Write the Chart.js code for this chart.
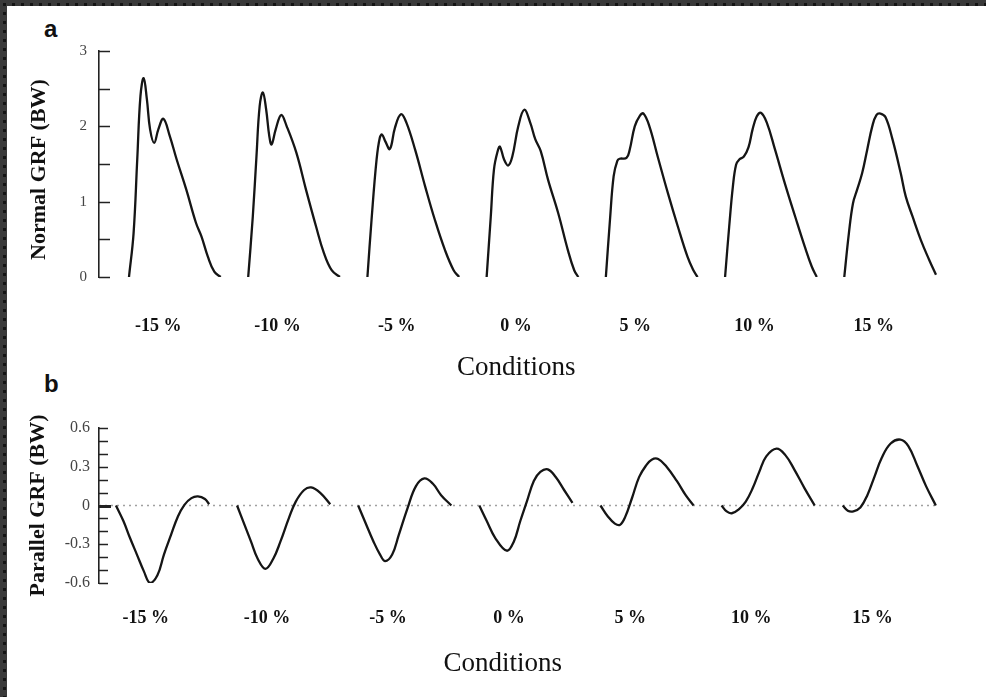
<!DOCTYPE html>
<html lang="en">
<head>
    <meta charset="UTF-8">
    <title>Normal and parallel GRF by slope condition</title>
    <script src="https://cdn.jsdelivr.net/npm/chart.js@4.4.1/dist/chart.umd.min.js"></script>
    <style>
        body {
            margin: 0;
            width: 986px;
            height: 697px;
            position: relative;
            overflow: hidden;
            background: radial-gradient(circle, #141414 1.4px, transparent 2px) 0 0 / 9px 9px, #3a3a3a;
        }
        .sheet { position: absolute; left: 7px; top: 6px; right: 0; bottom: 0; background: #fff; }
        canvas { position: absolute; left: 0; }
        #normalChart { top: 0; }
        #parallelChart { top: 384px; }
        .panel-tag {
            position: absolute;
            left: 44px;
            font: bold 24px "Liberation Sans", Arial, sans-serif;
            line-height: 24px;
            color: #111;
        }
    </style>
</head>
<body>
    <div class="sheet"></div>
    <div class="panel-tag" style="top:17px">a</div>
    <div class="panel-tag" style="top:372px">b</div>
    <canvas id="normalChart" width="986" height="384"></canvas>
    <canvas id="parallelChart" width="986" height="296"></canvas>

    <script>
        // slope conditions, left to right
        const conditions = ['-15 %', '-10 %', '-5 %', '0 %', '5 %', '10 %', '15 %'];

        // normal GRF (BW) vs % of stance, one trace per condition
        const normM15 = [[0,0],[5,0.58],[9,1.56],[12.5,2.40],[16,2.64],[19.5,2.36],[23,1.96],[27.5,1.78],[32,1.96],[37.5,2.10],[44.5,1.87],[52,1.56],[62.5,1.16],[73,0.72],[79,0.54],[86,0.27],[93,0.07],[100,0]];
        const normM10 = [[0,0],[5,0.80],[9,1.60],[12.5,2.27],[16,2.45],[19.5,2.23],[23,1.87],[25.5,1.76],[30,1.96],[36,2.15],[42,2.0],[52.5,1.65],[63,1.16],[74,0.67],[82.5,0.32],[91,0.09],[100,0]];
        const normM5 = [[0,0],[4.5,0.76],[10,1.56],[13.5,1.85],[16,1.89],[19.5,1.80],[24.5,1.70],[30,1.98],[36.5,2.16],[42.5,2.05],[52,1.69],[63,1.20],[73.5,0.76],[84.5,0.36],[94,0.09],[100,0]];
        const norm0 = [[0,0],[4.5,0.80],[8,1.43],[12,1.67],[14.5,1.73],[19,1.56],[23.5,1.48],[28,1.60],[34.5,2.0],[41,2.22],[47.5,2.05],[53,1.83],[59,1.67],[67,1.29],[78,0.85],[88.5,0.36],[95.5,0.09],[100,0]];
        const normP5 = [[0,0],[4.5,0.76],[8.5,1.34],[12.5,1.54],[15,1.57],[22.5,1.58],[26,1.69],[31.5,2.0],[37,2.14],[41,2.17],[47.5,2.0],[56.5,1.60],[67.5,1.12],[78.5,0.67],[89,0.27],[95,0.10],[100,0]];
        const normP10 = [[0,0],[4.5,0.67],[8.5,1.20],[12,1.49],[15.5,1.56],[20.5,1.60],[25.5,1.72],[30,1.96],[34.5,2.13],[39,2.18],[45.5,2.05],[54.5,1.69],[65.5,1.23],[76.5,0.80],[87,0.40],[94.5,0.14],[100,0]];
        const normP15 = [[0,0],[5,0.58],[9.5,0.98],[14,1.16],[19.5,1.38],[25,1.69],[30.5,2.0],[35,2.15],[39.5,2.17],[45,2.12],[52.5,1.83],[61.5,1.38],[67,1.07],[74.5,0.80],[83.5,0.49],[92.5,0.23],[100,0.03]];

        // parallel GRF (BW) vs % of stance
        const parM15 = [[0,0],[8,-0.12],[15,-0.25],[22.5,-0.38],[30,-0.51],[36.5,-0.60],[44.5,-0.54],[51.5,-0.38],[59,-0.23],[66.5,-0.085],[73.5,0.005],[81,0.057],[88,0.07],[95.5,0.05],[100,0.01]];
        const parM10 = [[0,0],[7.5,-0.14],[15,-0.28],[22,-0.41],[30.5,-0.49],[39,-0.41],[46.5,-0.28],[55.5,-0.10],[63,0.03],[72,0.12],[79.5,0.14],[89,0.10],[100,0.01]];
        const parM5 = [[0,0],[7,-0.12],[16.5,-0.28],[23.5,-0.38],[29,-0.43],[36.5,-0.38],[43.5,-0.23],[53,-0.02],[62,0.15],[71,0.21],[80,0.17],[89,0.08],[100,0]];
        const par0 = [[0,0],[8,-0.12],[17,-0.25],[29.5,-0.35],[37,-0.28],[44,-0.12],[51,0.03],[58.5,0.19],[65.5,0.26],[73.5,0.28],[82,0.22],[91,0.12],[100,0.02]];
        const parP5 = [[0,0],[8,-0.085],[15.5,-0.14],[21,-0.15],[26.5,-0.09],[34,0.06],[41.5,0.22],[49,0.31],[55,0.355],[62,0.36],[71,0.30],[82,0.19],[91.5,0.08],[100,0]];
        const parP10 = [[0,0],[5.5,-0.046],[11,-0.06],[18.5,-0.03],[26,0.03],[33.5,0.135],[40.5,0.26],[48,0.38],[59,0.44],[68.5,0.39],[78,0.28],[89,0.135],[100,0]];
        const parP15 = [[0,0],[5.5,-0.04],[11.5,-0.045],[19,-0.015],[26.5,0.08],[34,0.22],[42,0.37],[51.5,0.48],[62,0.51],[70.5,0.46],[80,0.31],[89.5,0.15],[100,0]];

        // axis ticks
        const normalTickLabels = [0, 1, 2, 3];
        const normalTickMarks = [0, 0.5, 1, 1.5, 2, 2.5, 3];
        const parallelTickLabels = [-0.6, -0.3, 0, 0.3, 0.6];
        const parallelTickMarks = [-0.6, -0.5, -0.4, -0.3, -0.2, -0.1, 0, 0.1, 0.2, 0.3, 0.4, 0.5, 0.6];

        const GAP = 130;        // x units between the start of two traces
        const LABEL_AT = 32;    // where the condition label sits inside a block
        const SERIF = '"Liberation Serif", "Times New Roman", serif';

        // ticks drawn on the inner side of the y axis
        const inwardTicks = {
            id: 'inwardTicks',
            afterDraw(chart, args, opts) {
                const y = chart.scales.y;
                const ctx = chart.ctx;
                ctx.save();
                ctx.strokeStyle = '#222';
                opts.values.forEach(v => {
                    const py = Math.round(y.getPixelForValue(v)) + 0.5;
                    const big = opts.boldZero && v === 0;
                    ctx.lineWidth = big ? 3 : 1.5;
                    ctx.beginPath();
                    ctx.moveTo(y.right, py);
                    ctx.lineTo(y.right + (big ? opts.len + 3 : opts.len), py);
                    ctx.stroke();
                });
                ctx.restore();
            }
        };

        function makePanel(id, curves, cfg) {
            const datasets = curves.map((pts, i) => ({
                data: pts.map(([p, v]) => ({ x: i * GAP + p, y: v })),
                borderColor: '#151515',
                borderWidth: 2.3,
                pointRadius: 0,
                tension: 0.4
            }));
            if (cfg.zeroLine) {
                datasets.push({
                    data: [{ x: cfg.xMin, y: 0 }, { x: (conditions.length - 1) * GAP + 100, y: 0 }],
                    borderColor: '#a0a0a0',
                    borderWidth: 1.6,
                    borderDash: [2, 4],
                    pointRadius: 0
                });
            }

            return new Chart(document.getElementById(id), {
                type: 'line',
                data: { datasets },
                plugins: [inwardTicks],
                options: {
                    responsive: false,
                    animation: false,
                    layout: { padding: { top: cfg.top, right: 39, left: 0, bottom: 0 } },
                    plugins: {
                        legend: { display: false },
                        tooltip: { enabled: false },
                        inwardTicks: { values: cfg.tickMarks, len: cfg.tickLen, boldZero: cfg.zeroLine }
                    },
                    scales: {
                        x: {
                            type: 'linear',
                            min: cfg.xMin,
                            max: 892,
                            grid: { display: false, drawTicks: false },
                            border: { display: false },
                            afterBuildTicks: s => { s.ticks = conditions.map((c, i) => ({ value: i * GAP + LABEL_AT })); },
                            afterFit: s => { s.height = cfg.xAxisHeight; },
                            ticks: {
                                autoSkip: false,
                                maxRotation: 0,
                                minRotation: 0,
                                padding: cfg.labelPad,
                                color: '#111',
                                font: { family: SERIF, size: 18, weight: 'bold' },
                                callback: (v, i) => conditions[i]
                            },
                            title: {
                                display: true,
                                // trailing spaces nudge the centred title a little to the left, as in the figure
                                text: 'Conditions' + ' '.repeat(cfg.titleNudge),
                                color: '#111',
                                padding: 0,
                                font: { family: SERIF, size: 27 }
                            }
                        },
                        y: {
                            min: cfg.yMin,
                            max: cfg.yMax,
                            grid: { display: false, drawTicks: false },
                            border: { display: true, color: '#222', width: 1.6 },
                            afterBuildTicks: s => { s.ticks = cfg.tickLabels.map(v => ({ value: v })); },
                            afterFit: s => { s.width = 99; },
                            ticks: {
                                padding: cfg.yLabelPad,
                                color: '#444',
                                font: { family: SERIF, size: cfg.yLabelSize },
                                callback: v => String(v)
                            },
                            title: {
                                display: true,
                                text: cfg.yTitle,
                                color: '#111',
                                padding: { top: cfg.yTitlePad, bottom: 0 },
                                font: { family: SERIF, size: 22, weight: 'bold' }
                            }
                        }
                    }
                }
            });
        }

        makePanel('normalChart', [normM15, normM10, normM5, norm0, normP5, normP10, normP15], {
            top: 51, xAxisHeight: 107, labelPad: 39, xMin: -32.7, titleNudge: 2,
            yMin: 0, yMax: 3, tickLabels: normalTickLabels, tickMarks: normalTickMarks, tickLen: 11,
            yLabelPad: 12, yLabelSize: 15, yTitle: 'Normal GRF (BW)  ', yTitlePad: 26, zeroLine: false
        });

        makePanel('parallelChart', [parM15, parM10, parM5, par0, parP5, parP10, parP15], {
            top: 44, xAxisHeight: 97, labelPad: 25, xMin: -18.2, titleNudge: 6,
            yMin: -0.6, yMax: 0.6, tickLabels: parallelTickLabels, tickMarks: parallelTickMarks, tickLen: 9,
            yLabelPad: 9, yLabelSize: 16, yTitle: 'Parallel GRF (BW)', yTitlePad: 25, zeroLine: true
        });
    </script>
</body>
</html>
